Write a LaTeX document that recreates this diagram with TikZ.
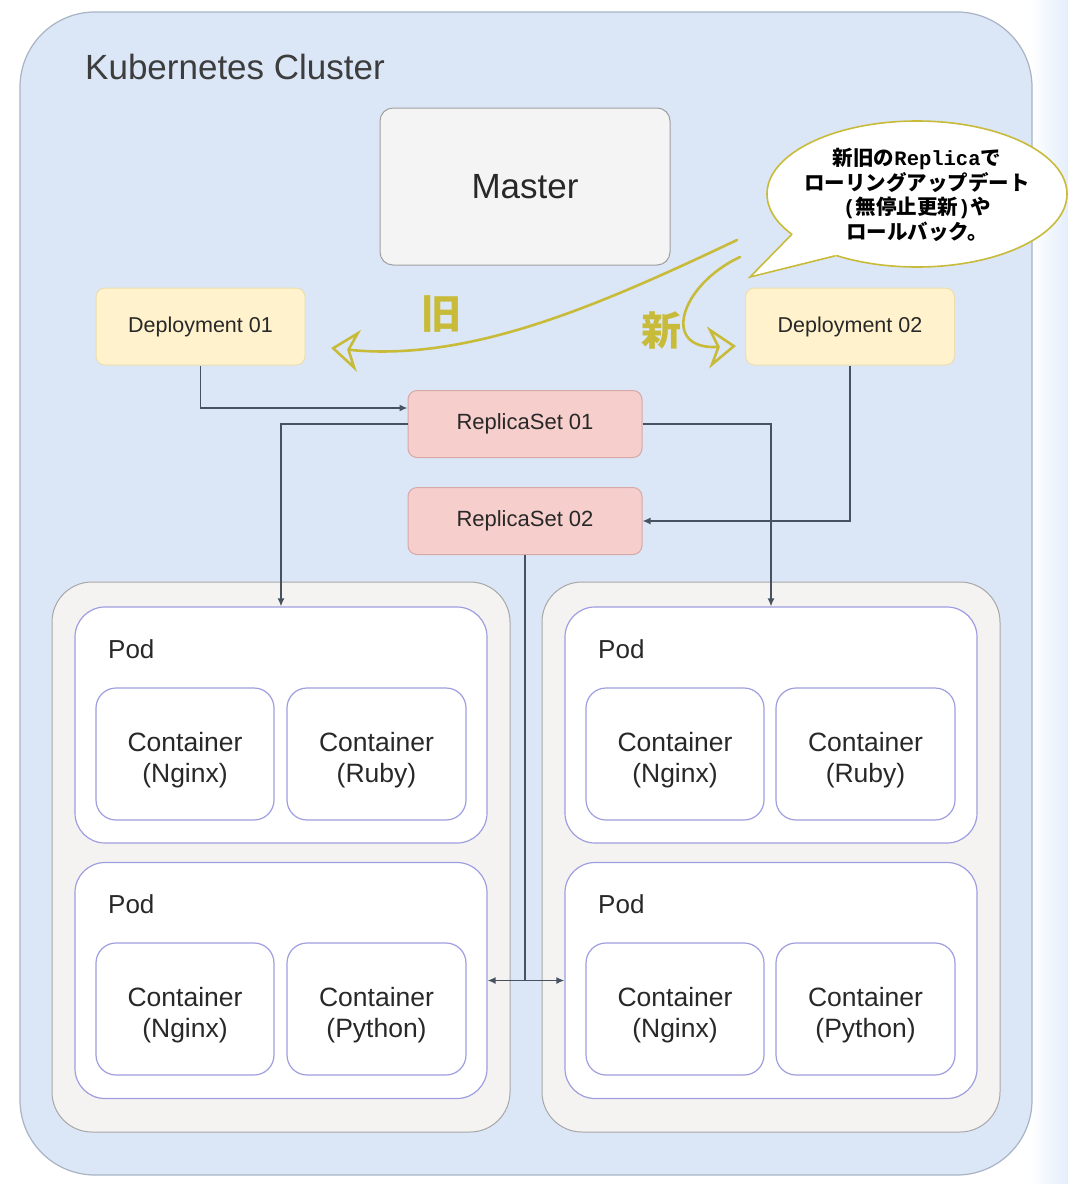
\documentclass[tikz,border=0pt]{standalone}
\usepackage{fontspec}
\setmainfont{Liberation Sans}
\newfontfamily\jp{Noto Sans CJK JP}
\newfontfamily\monof{Liberation Mono}
\usetikzlibrary{arrows.meta,shapes.geometric,calc}
\definecolor{clfill}{RGB}{219,231,247}
\definecolor{cldraw}{RGB}{168,180,196}
\definecolor{nodefill}{RGB}{244,243,241}
\definecolor{nodedraw}{RGB}{168,168,168}
\definecolor{podline}{RGB}{158,158,224}
\definecolor{depfill}{RGB}{255,242,204}
\definecolor{depdraw}{RGB}{236,222,176}
\definecolor{rsfill}{RGB}{246,206,204}
\definecolor{rsdraw}{RGB}{214,168,168}
\definecolor{mfill}{RGB}{244,244,244}
\definecolor{mdraw}{RGB}{160,160,160}
\definecolor{txt}{RGB}{40,40,40}
\definecolor{conn}{RGB}{70,82,96}
\definecolor{gold}{RGB}{200,187,58}
\definecolor{bgblue}{RGB}{228,238,250}
\begin{document}
\begin{tikzpicture}[x=1pt,y=-1pt,
  cluster/.style={draw=cldraw, fill=clfill, line width=1.2pt, rounded corners=75pt, minimum width=1012pt, minimum height=1163pt, inner sep=0pt},
  master/.style={draw=mdraw, fill=mfill, line width=1pt, rounded corners=13pt, minimum width=290pt, minimum height=157pt, inner sep=0pt, text=txt, font=\fontsize{35}{40}\selectfont},
  dep/.style={draw=depdraw, fill=depfill, line width=1pt, rounded corners=9pt, minimum width=209pt, minimum height=77pt, inner sep=0pt, text=txt, font=\fontsize{21.5}{24}\selectfont},
  rs/.style={draw=rsdraw, fill=rsfill, line width=1pt, rounded corners=9pt, minimum width=234pt, minimum height=67pt, inner sep=0pt, text=txt, font=\fontsize{22}{24}\selectfont},
  nodebox/.style={draw=nodedraw, fill=nodefill, line width=1pt, rounded corners=40pt, minimum width=458pt, minimum height=550pt, inner sep=0pt},
  podbox/.style={draw=podline, fill=white, line width=1.2pt, rounded corners=30pt, minimum width=412pt, minimum height=236pt, inner sep=0pt},
  contbox/.style={draw=podline, fill=white, line width=1.2pt, rounded corners=20pt, minimum height=132pt, inner sep=0pt},
  conttext/.style={align=center, inner sep=0pt, text=txt, font=\fontsize{26.5}{30.5}\selectfont},
  podlabel/.style={anchor=west, text=txt, font=\fontsize{26}{30}\selectfont, inner sep=0pt},
  connline/.style={draw=conn, line width=1.5pt},
  arr/.style={-{Latex[length=8pt,width=7pt]}},
  goldarrow/.style={draw=gold, line width=2.6pt, line cap=round, -{Stealth[open,length=28pt,width=42pt,inset=9pt,line width=2.6pt]}},
  goldtext/.style={text=gold, font=\jp\bfseries\fontsize{40}{44}\selectfont, inner sep=0pt}
]
\useasboundingbox (0,0) rectangle (1068,1184);
\fill[white] (0,0) rectangle (1068,1184);
\shade[left color=white, right color=bgblue] (1030,0) rectangle (1068,1184);

% cluster
\node[cluster] (cl) at (526,593.5) {};
\node[anchor=west, inner sep=0pt, text=txt!90, font=\fontsize{35}{40}\selectfont] (title) at (85,67) {Kubernetes Cluster};

% master, deployments, replicasets
\node[master] (master) at (525,186.5) {Master};
\node[dep] (d1) at (200.5,326.5) {Deployment 01};
\node[dep] (d2) at (850,326.5) {Deployment 02};
\node[rs] (rs1) at (525,424) {ReplicaSet 01};
\node[rs] (rs2) at (525,521) {ReplicaSet 02};

% worker nodes
\node[nodebox] (nL) at (281,857) {};
\node[nodebox] (nR) at (771,857) {};

% pods
\node[podbox] (pL1) at (281,725) {};
\node[podbox] (pL2) at (281,980.5) {};
\node[podbox] (pR1) at (771,725) {};
\node[podbox] (pR2) at (771,980.5) {};

\node[podlabel] (lL1) at (108,649) {Pod};
\node[podlabel] (lL2) at (108,904) {Pod};
\node[podlabel] (lR1) at (598,649) {Pod};
\node[podlabel] (lR2) at (598,904) {Pod};

% containers
\node[contbox, minimum width=178pt] (cL1a) at (185,754) {};
\node[contbox, minimum width=179pt] (cL1b) at (376.5,754) {};
\node[contbox, minimum width=178pt] (cR1a) at (675,754) {};
\node[contbox, minimum width=179pt] (cR1b) at (865.5,754) {};
\node[contbox, minimum width=178pt] (cL2a) at (185,1009) {};
\node[contbox, minimum width=179pt] (cL2b) at (376.5,1009) {};
\node[contbox, minimum width=178pt] (cR2a) at (675,1009) {};
\node[contbox, minimum width=179pt] (cR2b) at (865.5,1009) {};
\node[conttext] (tL1a) at ([yshift=-6pt]cL1a.center) {Container\\(Nginx)};
\node[conttext] (tL1b) at ([yshift=-6pt]cL1b.center) {Container\\(Ruby)};
\node[conttext] (tR1a) at ([yshift=-6pt]cR1a.center) {Container\\(Nginx)};
\node[conttext] (tR1b) at ([yshift=-6pt]cR1b.center) {Container\\(Ruby)};
\node[conttext] (tL2a) at ([yshift=-6pt]cL2a.center) {Container\\(Nginx)};
\node[conttext] (tL2b) at ([yshift=-6pt]cL2b.center) {Container\\(Python)};
\node[conttext] (tR2a) at ([yshift=-6pt]cR2a.center) {Container\\(Nginx)};
\node[conttext] (tR2b) at ([yshift=-6pt]cR2b.center) {Container\\(Python)};

% connectors
\draw[connline, arr] (d1.south) |- ([yshift=16pt]rs1.west);
\draw[connline, arr] (rs1.west) -| (pL1.north);
\draw[connline, arr] (rs1.east) -| (pR1.north);
\draw[connline, arr] (d2.south) |- (rs2.east);
\coordinate (jn) at (rs2.south |- pL2.east);
\draw[connline] (rs2.south) -- (jn);
\draw[connline, {Latex[length=8pt,width=7pt]}-{Latex[length=8pt,width=7pt]}] (pL2.east) -- (pR2.west);

% callout
\node[ellipse, fill=white, draw=gold, line width=1.6pt, minimum width=300pt, minimum height=146pt, inner sep=0pt] (call) at (917,194) {};
\coordinate (tip) at (750,277);
\fill[white] (call.center) -- (call.217) -- (tip) -- (call.198) -- cycle;
\draw[gold, line width=1.6pt, line join=miter] (call.217) -- (tip) -- (call.198);
\node[align=center, inner sep=0pt, text=black, font=\jp\bfseries\fontsize{20.5}{24.5}\selectfont] (calltext) at (917,195)
  {新旧の{\monof\bfseries Replica}で\\ローリングアップデート\\{\monof\bfseries (}無停止更新{\monof\bfseries )}や\\ロールバック。};

% gold arrows and labels
\coordinate (g1s) at (737,240);
\coordinate (g1e) at (331,348);
\draw[goldarrow] (g1s) .. controls (600,305) and (470,362) .. (g1e);
\coordinate (g2s) at (740,257);
\coordinate (g2e) at (736,346);
\draw[goldarrow] (g2s) .. controls (680,285) and (660,350) .. (g2e);
\node[goldtext] (old) at (441,314) {旧};
\node[goldtext] (new) at (661,331) {新};
\end{tikzpicture}
\end{document}
